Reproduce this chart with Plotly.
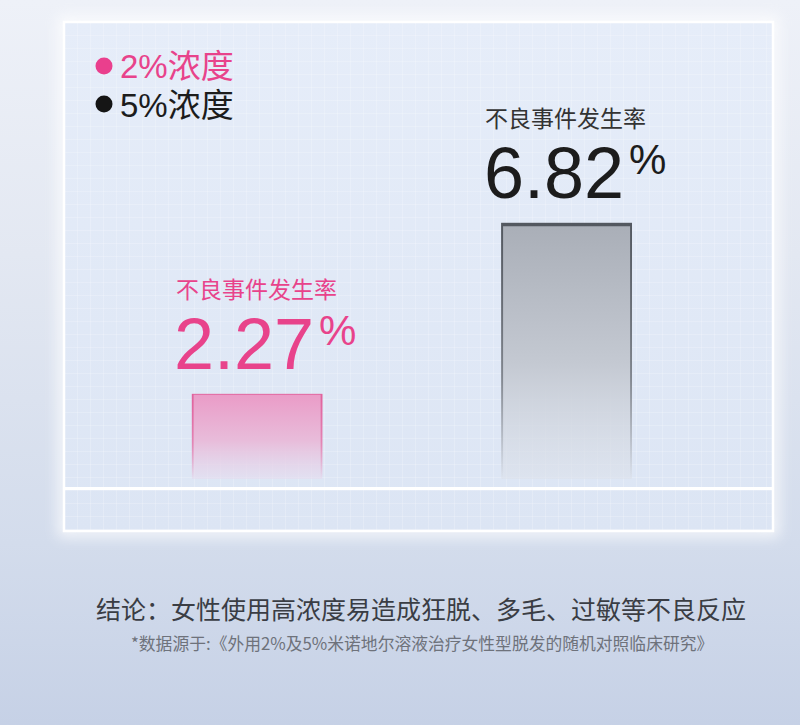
import base64
import plotly.graph_objects as go

# data
concentrations = ["2%浓度", "5%浓度"]
adverse_rates = [2.27, 6.82]
rate_label = "不良事件发生率"
conclusion = "结论：女性使用高浓度易造成狂脱、多毛、过敏等不良反应"
source_note = "*数据源于:《外用2%及5%米诺地尔溶液治疗女性型脱发的随机对照临床研究》"

# colours for each series
text_colors = ["#e8438b", "#1c1c1c"]
label_colors = ["#e8438b", "#333333"]
legend_colors = ["#ea3f8d", "#151515"]

W, H = 800, 725
ML, MR, MT, MB = 64, 27, 22, 238
PW, PH = W - ML - MR, H - MT - MB
BAND = 44          # lower strip of the panel under the base line
BAR_W = 0.423

CJK = "Noto Sans CJK SC"
NUM = "Liberation Sans"


def svg_uri(svg):
    return "data:image/svg+xml;base64," + base64.b64encode(svg.encode("utf-8")).decode()


def px_x(px):
    return (px - ML) / PW


def px_y(py):
    return 1 - (py - MT) / PH


# page background + panel with grid
bg_svg = f"""<svg xmlns="http://www.w3.org/2000/svg" width="{W}" height="{H}" viewBox="0 0 {W} {H}" preserveAspectRatio="none">
<defs>
<linearGradient id="bg" x1="0" y1="0" x2="0" y2="1">
<stop offset="0" stop-color="#eef1f8"/><stop offset="0.35" stop-color="#e3e8f2"/>
<stop offset="0.75" stop-color="#d3dcec"/><stop offset="1" stop-color="#c6d1e6"/>
</linearGradient>
<linearGradient id="pn" x1="0" y1="0" x2="0" y2="1">
<stop offset="0" stop-color="#e6edf9"/><stop offset="1" stop-color="#dce5f4"/>
</linearGradient>
<pattern id="grid" width="13" height="13" patternUnits="userSpaceOnUse" x="{ML}" y="{MT}">
<path d="M13 0 L0 0 0 13" fill="none" stroke="#ffffff" stroke-opacity="0.38" stroke-width="1"/>
</pattern>
<filter id="glow" x="-20%" y="-20%" width="140%" height="140%"><feGaussianBlur stdDeviation="7"/></filter>
</defs>
<rect width="{W}" height="{H}" fill="url(#bg)"/>
<rect x="{ML}" y="{MT}" width="{PW}" height="{PH + BAND}" fill="none" stroke="#ffffff" stroke-width="12" opacity="0.8" filter="url(#glow)"/>
<rect x="{ML}" y="{MT}" width="{PW}" height="{PH + BAND}" fill="url(#pn)"/>
<rect x="{ML}" y="{MT}" width="{PW}" height="{PH + BAND}" fill="url(#grid)"/>
<rect x="{ML}" y="{MT}" width="{PW}" height="{PH + BAND}" fill="none" stroke="#ffffff" stroke-width="2.5"/>
</svg>"""


def bar_svg(top, mid, bottom, edge):
    return f"""<svg xmlns="http://www.w3.org/2000/svg" width="100" height="100" viewBox="0 0 100 100" preserveAspectRatio="none">
<defs>
<linearGradient id="f" x1="0" y1="0" x2="0" y2="1">
<stop offset="0" stop-color="{top}"/><stop offset="0.55" stop-color="{mid}"/>
<stop offset="1" stop-color="{bottom}" stop-opacity="0.55"/>
</linearGradient>
<linearGradient id="s" x1="0" y1="0" x2="0" y2="1">
<stop offset="0" stop-color="{edge}"/><stop offset="0.6" stop-color="{edge}" stop-opacity="0.6"/>
<stop offset="1" stop-color="{edge}" stop-opacity="0"/>
</linearGradient>
</defs>
<rect x="0" y="0" width="100" height="100" fill="url(#f)"/>
<path d="M0.7 100 V0.6 H99.3 V100" fill="none" stroke="url(#s)" stroke-width="1.6" vector-effect="non-scaling-stroke"/>
</svg>"""


bar_styles = [
    ("#ea9bc7", "#e8bcda", "#e5dbee", "#e0639d"),
    ("#a9aeb7", "#c4c9d2", "#dce1ea", "#535860"),
]

fig = go.Figure()
fig.add_trace(go.Bar(
    x=concentrations,
    y=adverse_rates,
    width=BAR_W,
    marker=dict(color="rgba(0,0,0,0)", line=dict(width=0)),
    hovertemplate="%{x}<br>" + rate_label + " %{y}%<extra></extra>",
    showlegend=False,
))

images = [dict(
    source=svg_uri(bg_svg), xref="paper", yref="paper",
    x=-ML / PW, y=1 + MT / PH, sizex=W / PW, sizey=H / PH,
    xanchor="left", yanchor="top", sizing="stretch", layer="below",
)]
for i, (cat, val) in enumerate(zip(concentrations, adverse_rates)):
    images.append(dict(
        source=svg_uri(bar_svg(*bar_styles[i])), xref="x", yref="y",
        x=i - BAR_W / 2, y=val, sizex=BAR_W, sizey=val,
        xanchor="left", yanchor="top", sizing="stretch", layer="below",
    ))

annotations = []
for i, (cat, val) in enumerate(zip(concentrations, adverse_rates)):
    annotations += [
        dict(x=cat, y=val, text=rate_label, showarrow=False, xanchor="center", yanchor="middle",
             xshift=-1, yshift=106, font=dict(family=CJK, size=23, color=label_colors[i])),
        dict(x=cat, y=val, text=f"{val:.2f}", showarrow=False, xanchor="right", yanchor="middle",
             xshift=59, yshift=50, font=dict(family=NUM, size=72, color=text_colors[i])),
        dict(x=cat, y=val, text="%", showarrow=False, xanchor="left", yanchor="middle",
             xshift=60, yshift=63, font=dict(family=NUM, size=42, color=text_colors[i])),
    ]

# custom legend: dots as shapes, both labels in one text block
shapes = []
legend_rows = [66, 104]
for i, cat in enumerate(concentrations):
    shapes.append(dict(
        type="circle", xref="paper", yref="paper", xsizemode="pixel", ysizemode="pixel",
        xanchor=px_x(104), yanchor=px_y(legend_rows[i]), x0=-8.5, x1=8.5, y0=-8.5, y1=8.5,
        fillcolor=legend_colors[i], line=dict(width=0),
    ))
legend_text = "<br>".join(
    f"<span style='color:{text_colors[i]};font-size:33px'>{cat}</span>"
    for i, cat in enumerate(concentrations)
)
annotations.append(dict(
    xref="paper", yref="paper", x=px_x(118), y=px_y(86), text=legend_text,
    showarrow=False, xanchor="left", yanchor="middle", align="left",
    font=dict(family=NUM + ", " + CJK, size=30, color=text_colors[1]),
))

annotations += [
    dict(xref="paper", yref="paper", x=px_x(421), y=px_y(608), text=conclusion, showarrow=False,
         xanchor="center", yanchor="middle", font=dict(family=CJK, size=25, color="#3a3d44")),
    dict(xref="paper", yref="paper", x=px_x(422), y=px_y(643), text=source_note, showarrow=False,
         xanchor="center", yanchor="middle", font=dict(family=CJK, size=16.8, color="#6e727b")),
]

fig.update_layout(
    width=W, height=H, autosize=False,
    margin=dict(l=ML, r=MR, t=MT, b=MB, pad=0),
    paper_bgcolor="#e3e8f2",
    plot_bgcolor="rgba(0,0,0,0)",
    images=images,
    shapes=shapes,
    annotations=annotations,
    xaxis=dict(range=[-0.624, 1.667], showticklabels=False, showgrid=False, zeroline=False,
               ticks="", showline=True, linecolor="#ffffff", linewidth=2.5, fixedrange=True),
    yaxis=dict(range=[-0.213, 12.16], showticklabels=False, showgrid=False, zeroline=False,
               ticks="", fixedrange=True),
    showlegend=False,
)

# page body has a default 8px margin; drop it so the figure sits at the window corner
fig.write_html("out.html", config={"displayModeBar": False},
               post_script="document.body.style.margin='0';")
